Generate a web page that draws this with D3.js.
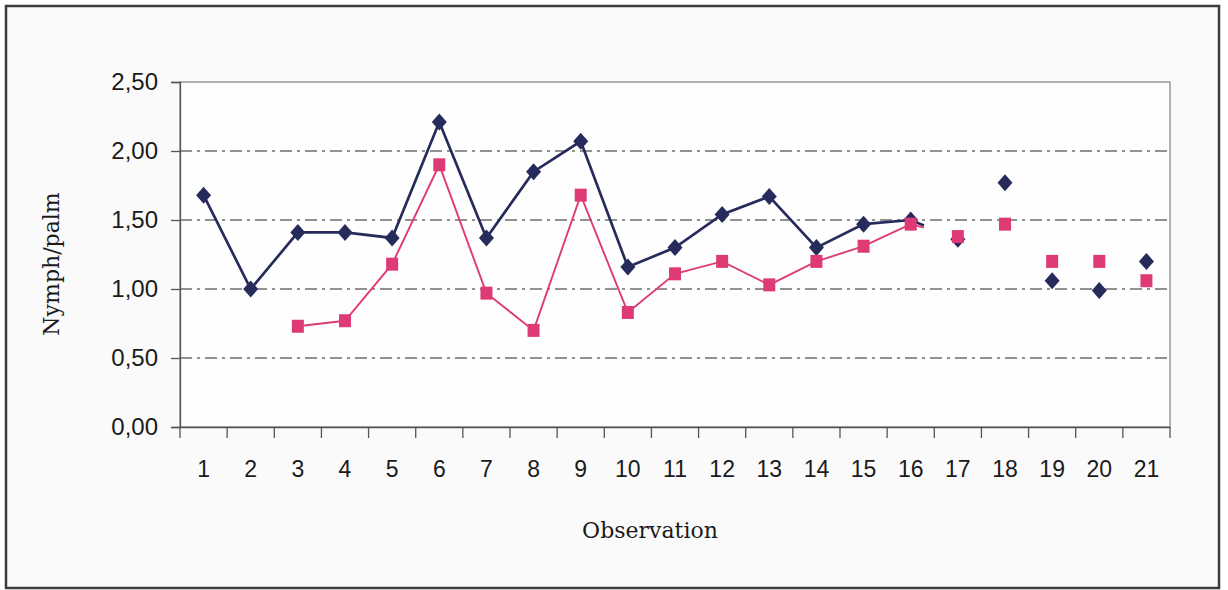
<!DOCTYPE html>
<html>
<head>
<meta charset="utf-8">
<script src="https://cdn.jsdelivr.net/npm/d3@7"></script>
<style>
  body { margin: 0; background: #ffffff; }
  svg { display: block; }
</style>
</head>
<body>
<svg id="chart" width="1228" height="590"></svg>
<script>
// observations on the x axis
const observations = ["1","2","3","4","5","6","7","8","9","10","11","12","13","14","15","16","17","18","19","20","21"];
// navy diamonds
const seriesA = [1.68, 1.00, 1.41, 1.41, 1.37, 2.21, 1.37, 1.85, 2.07, 1.16, 1.30, 1.54, 1.67, 1.30, 1.47, 1.50, 1.36, 1.77, 1.06, 0.99, 1.20];
// pink squares (no value for obs 1 and 2)
const seriesB = [null, null, 0.73, 0.77, 1.18, 1.90, 0.97, 0.70, 1.68, 0.83, 1.11, 1.20, 1.03, 1.20, 1.31, 1.47, 1.38, 1.47, 1.20, 1.20, 1.06];
const yTicks = [0, 0.5, 1, 1.5, 2, 2.5];
// lines are only drawn up to this observation
const lastLinked = 16;

const svg = d3.select("#chart");

const plot = { left: 180, top: 82, right: 1170, bottom: 427 };

const x = d3.scaleBand()
    .domain(observations)
    .range([plot.left, plot.right]);

const y = d3.scaleLinear()
    .domain([0, 2.5])
    .range([plot.bottom, plot.top]);

const fmt = d => d3.format(".2f")(d).replace(".", ",");
const cx = d => x(d) + x.bandwidth() / 2;

// outer frame
svg.append("rect")
    .attr("x", 6).attr("y", 6)
    .attr("width", 1213).attr("height", 582)
    .attr("fill", "#fafafa")
    .attr("stroke", "#3c3c3c")
    .attr("stroke-width", 2.5);

// plot area
svg.append("rect")
    .attr("x", plot.left).attr("y", plot.top)
    .attr("width", plot.right - plot.left).attr("height", plot.bottom - plot.top)
    .attr("fill", "#fefefe")
    .attr("stroke", "#8a8a8a")
    .attr("stroke-width", 1.3);

// dash-dot gridlines
svg.append("g")
    .selectAll("line")
    .data(yTicks.filter(t => t > 0 && t < 2.5))
    .enter()
    .append("line")
    .attr("x1", plot.left).attr("x2", plot.right)
    .attr("y1", d => y(d)).attr("y2", d => y(d))
    .attr("stroke", "#6e6e6e")
    .attr("stroke-width", 1.3)
    .attr("stroke-dasharray", "12,5,3,5");

// y axis
const yAxis = svg.append("g")
    .attr("transform", `translate(${plot.left},0)`)
    .call(d3.axisLeft(y).tickValues(yTicks).tickFormat(fmt).tickSize(9).tickPadding(13));
yAxis.select(".domain").attr("stroke", "#555").attr("stroke-width", 1.3);
yAxis.selectAll(".tick line").attr("stroke", "#555").attr("stroke-width", 1.3);
yAxis.selectAll("text")
    .attr("font-family", "'Liberation Sans', Arial, sans-serif")
    .attr("font-size", 24)
    .attr("fill", "#1a1a1a");

// x axis: labels in band centres, ticks on band edges
const xAxis = svg.append("g")
    .attr("transform", `translate(0,${plot.bottom})`)
    .call(d3.axisBottom(x).tickSize(0).tickPadding(34));
xAxis.select(".domain").attr("stroke", "#555").attr("stroke-width", 1.3);
xAxis.selectAll("text")
    .attr("font-family", "'Liberation Sans', Arial, sans-serif")
    .attr("font-size", 23)
    .attr("fill", "#1a1a1a");

const edges = observations.map(d => x(d)).concat([x(observations[observations.length - 1]) + x.bandwidth()]);
xAxis.append("g")
    .selectAll("line")
    .data(edges)
    .enter()
    .append("line")
    .attr("x1", d => d).attr("x2", d => d)
    .attr("y1", 0).attr("y2", 11)
    .attr("stroke", "#555")
    .attr("stroke-width", 1.3);

// axis titles
svg.append("text")
    .attr("x", 650).attr("y", 538)
    .attr("text-anchor", "middle")
    .attr("font-family", "'DejaVu Serif', serif")
    .attr("font-size", 22)
    .attr("fill", "#1a1a1a")
    .text("Observation");

svg.append("text")
    .attr("transform", "translate(59,264) rotate(-90)")
    .attr("text-anchor", "middle")
    .attr("font-family", "'DejaVu Serif', serif")
    .attr("font-size", 22)
    .attr("fill", "#1a1a1a")
    .text("Nymph/palm");

// draw one series: line up to lastLinked, a short stub toward the next point, then markers
function drawSeries(values, color, width, marker) {
    const pts = observations.map((o, i) => ({ o: o, v: values[i], i: i }))
        .filter(p => p.v !== null);
    const linked = pts.filter(p => p.i < lastLinked);

    const line = d3.line()
        .x(p => cx(p.o))
        .y(p => y(p.v));

    svg.append("path")
        .datum(linked)
        .attr("d", line)
        .attr("fill", "none")
        .attr("stroke", color)
        .attr("stroke-width", width)
        .attr("stroke-linejoin", "miter");

    // broken-off piece of the segment after lastLinked
    const a = pts.find(p => p.i === lastLinked - 1);
    const b = pts.find(p => p.i === lastLinked);
    if (a && b) {
        const f = 0.28;
        svg.append("line")
            .attr("x1", cx(a.o)).attr("y1", y(a.v))
            .attr("x2", cx(a.o) + (cx(b.o) - cx(a.o)) * f)
            .attr("y2", y(a.v) + (y(b.v) - y(a.v)) * f)
            .attr("stroke", color)
            .attr("stroke-width", width);
    }

    svg.append("g")
        .selectAll("path")
        .data(pts)
        .enter()
        .append("path")
        .attr("transform", p => `translate(${cx(p.o)},${y(p.v)})`)
        .attr("d", marker)
        .attr("fill", color);
}

drawSeries(seriesA, "#272b5c", 2.7, "M0,-8.5L7.5,0L0,8.5L-7.5,0Z");
drawSeries(seriesB, "#de3b76", 1.9, "M-6,-6.5H6V6.5H-6Z");
</script>
</body>
</html>
